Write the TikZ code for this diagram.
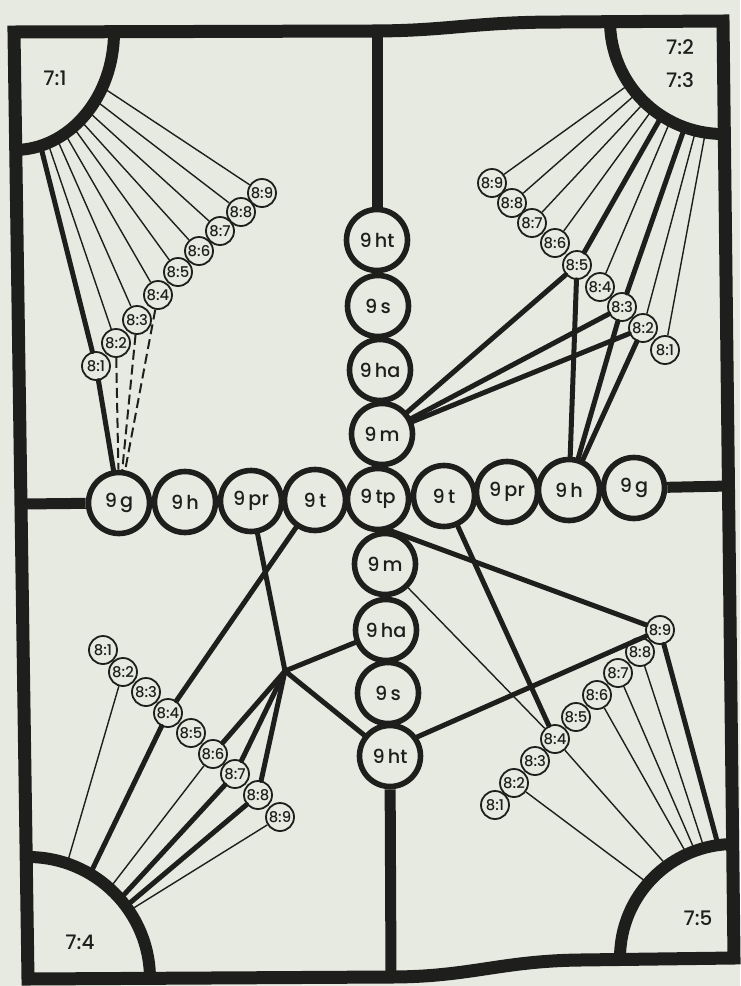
\documentclass[tikz,border=0pt]{standalone}
\usepackage{fontspec}
\setmainfont{Poppins Medium}
\usetikzlibrary{positioning}
\definecolor{ink}{RGB}{30,30,28}
\definecolor{paper}{RGB}{231,234,225}

\begin{document}
\begin{tikzpicture}[
    x=0.5pt, y=-0.5pt,
    big/.style={draw=ink, circle, line width=2.8pt, fill=paper, minimum size=30.5pt, inner sep=0pt, text=ink, font=\fontsize{9.6}{9.6}\selectfont},
    small/.style={draw=ink, circle, line width=0.9pt, fill=paper, minimum size=14pt, inner sep=0pt, text=ink, font=\fontsize{7.4}{7.4}\selectfont},
    thinline/.style={draw=ink, line width=0.7pt},
    thickline/.style={draw=ink, line width=2.5pt, line cap=round},
    dashline/.style={draw=ink, line width=1pt, dash pattern=on 5pt off 2.5pt},
    bar/.style={draw=ink, line width=5.5pt},
    arcline/.style={draw=ink, line width=6pt},
    frame/.style={draw=ink, line width=6.5pt, line join=miter},
    corner/.style={text=ink, font=\fontsize{10}{10}\selectfont}
]
\useasboundingbox (0,0) rectangle (740,986);
\fill[paper] (0,0) rectangle (740,986);

% corners of the frame
\coordinate (c71) at (14,32);
\coordinate (c72) at (723,21);
\coordinate (c74) at (28,979);
\coordinate (c75) at (734,958);

% row of circles
\node[big] (gL)  at (119,503) {9\,g};
\node[big] (hL)  at (185,502) {9\,h};
\node[big] (prL) at (251,501) {9\,pr};
\node[big] (tL)  at (315,500) {9\,t};
\node[big] (tp)  at (378,499) {9\,tp};
\node[big] (tR)  at (444,496) {9\,t};
\node[big] (prR) at (507,492) {9\,pr};
\node[big] (hR)  at (569,490) {9\,h};
\node[big] (gR)  at (634,488) {9\,g};
% column of circles
\node[big] (htU) at (377,240) {9\,ht};
\node[big] (sU)  at (378,306) {9\,s};
\node[big] (haU) at (380,370) {9\,ha};
\node[big] (mU)  at (382,434) {9\,m};
\node[big] (mD)  at (385,564) {9\,m};
\node[big] (haD) at (386,630) {9\,ha};
\node[big] (sD)  at (388,693) {9\,s};
\node[big] (htD) at (390,756) {9\,ht};

% chains of small circles
\foreach \n/\x/\y in {1/96/366,2/116/343,3/137/320,4/158/295,5/178/272,6/199/251,7/220/231,8/241/212,9/262/193}
    \node[small] (tl\n) at (\x,\y) {8:\n};
\foreach \n/\x/\y in {1/665/350,2/643/328,3/622/307,4/600/287,5/577/265,6/555/243,7/532/223,8/512/203,9/492/183}
    \node[small] (tr\n) at (\x,\y) {8:\n};
\foreach \n/\x/\y in {1/103/650,2/123/672,3/146/692,4/168/713,5/191/733,6/213/754,7/235/774,8/258/795,9/280/817}
    \node[small] (bl\n) at (\x,\y) {8:\n};
\foreach \n/\x/\y in {1/495/805,2/514/783,3/535/761,4/555/739,5/576/717,6/597/695,7/618/673,8/640/652,9/660/630}
    \node[small] (br\n) at (\x,\y) {8:\n};

% upper left
\foreach \n/\a in {9/27.9,8/35.4,7/42.2,6/48.4,5/53.7,4/59.4,3/64.6,2/70.2,1/74.6}
    \path (c71) ++(\a:100 and 118) coordinate (f1\n);
\foreach \n in {2,...,9}
    \draw[thinline] (f1\n) -- (tl\n);
\draw[thickline] (f11) -- (tl1);
\draw[thickline] (tl1) -- (gL);
\foreach \n in {2,3,4}
    \draw[dashline] (tl\n) -- (gL);

% upper right
\foreach \n/\a in {9/146,8/140,7/134,6/128.6,5/122.8,4/117.8,3/109.8,2/104,1/99}
    \path (c72) ++(\a:113) coordinate (f2\n);
\foreach \n in {9,8,7,6,4,2,1}
    \draw[thinline] (f2\n) -- (tr\n);
\foreach \n in {5,3}
    \draw[thickline] (f2\n) -- (tr\n);
\foreach \n in {5,3,2} {
    \draw[thickline] (tr\n) -- (mU);
    \draw[thickline] (tr\n) -- (hR);
}

% lower left
\foreach \n/\a in {2/288.7,4/300.6,6/312,7/319,8/323.4,9/326}
    \path (c74) ++(\a:122) coordinate (f4\n);
\foreach \n in {2,6,9}
    \draw[thinline] (f4\n) -- (bl\n);
\foreach \n in {4,7,8}
    \draw[thickline] (f4\n) -- (bl\n);
\draw[thickline] (bl4) -- (tL);
\coordinate (hub) at (285,671);
\draw[thickline] (prL) -- (hub);
\draw[thickline] (haD) -- (hub);
\draw[thickline] (hub) -- (htD);
\foreach \n in {6,7,8}
    \draw[thickline] (hub) -- (bl\n);

% lower right
\foreach \n/\a in {2/221,4/234,6/245.6,7/250,8/254.8,9/262}
    \path (c75) ++(\a:114) coordinate (f5\n);
\foreach \n in {2,4,6,7,8}
    \draw[thinline] (f5\n) -- (br\n);
\draw[thickline] (f59) -- (br9);
\draw[thickline] (tp.-70) -- (br9);
\draw[thickline] (htD.35) -- (br9);
\draw[thickline] (tR) -- (br4);
\draw[thinline] (mD) -- (br4);

% bars to the frame
\coordinate (topend) at (377,31);
\coordinate (botend) at (391,977);
\coordinate (leftend) at (21,504);
\coordinate (rightend) at (729,486);
\draw[bar] (htU) -- (topend);
\draw[bar] (htD) -- (botend);
\draw[bar] (gL) -- (leftend);
\draw[bar] (gR) -- (rightend);

% quarter arcs
\draw[arcline] (c71) ++(0:100 and 118) arc[start angle=0, end angle=90, x radius=100, y radius=118];
\draw[arcline] (c72) ++(90:113) arc[start angle=90, end angle=180, radius=113];
\draw[arcline] (c74) ++(270:122) arc[start angle=270, end angle=360, radius=122];
\draw[arcline] (c75) ++(180:114) arc[start angle=180, end angle=270, radius=114];

% frame
\draw[frame] (c71) -- (370,31) .. controls (450,31) and (470,22) .. (560,22) -- (c72)
    -- (c75) -- (580,960) .. controls (500,961) and (470,977) .. (390,977) -- (c74) -- cycle;

\node[corner] (l71) at (55,78) {7:1};
\node[corner] (l72) at (680,47) {7:2};
\node[corner] (l73) at (680,80) {7:3};
\node[corner] (l74) at (80,942) {7:4};
\node[corner] (l75) at (698,918) {7:5};
\end{tikzpicture}
\end{document}
